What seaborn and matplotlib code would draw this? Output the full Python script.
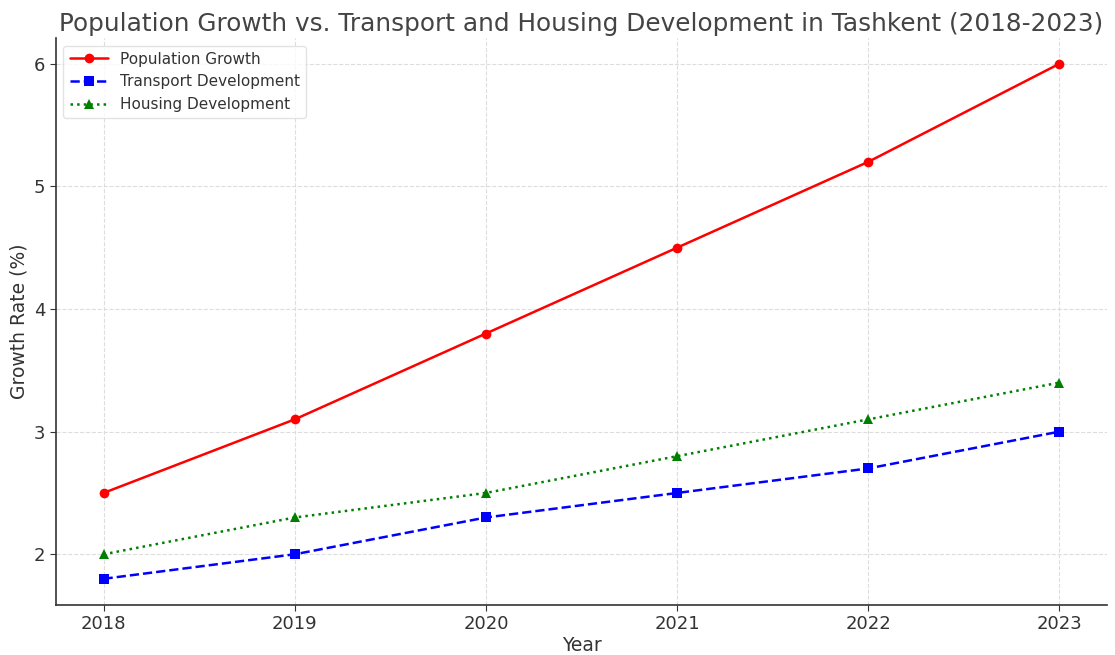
import pandas as pd
import matplotlib.pyplot as plt
import seaborn as sns

# Data
years = [2018, 2019, 2020, 2021, 2022, 2023]
population_growth = [2.5, 3.1, 3.8, 4.5, 5.2, 6.0]
transport_development = [1.8, 2.0, 2.3, 2.5, 2.7, 3.0]
housing_development = [2.0, 2.3, 2.5, 2.8, 3.1, 3.4]

df = pd.DataFrame({
    'Year': years,
    'Population Growth': population_growth,
    'Transport Development': transport_development,
    'Housing Development': housing_development,
})

sns.set_style('white')
plt.rcParams['text.color'] = '#333333'
plt.rcParams['axes.labelcolor'] = '#333333'
plt.rcParams['xtick.color'] = '#333333'
plt.rcParams['ytick.color'] = '#333333'

fig, ax = plt.subplots(figsize=(11.15, 6.55), dpi=100)

styles = {
    'Population Growth': dict(color='red', marker='o', linestyle='-'),
    'Transport Development': dict(color='blue', marker='s', linestyle='--'),
    'Housing Development': dict(color='green', marker='^', linestyle=':'),
}
for name, st in styles.items():
    sns.lineplot(data=df, x='Year', y=name, ax=ax, label=name,
                 color=st['color'], marker=st['marker'], linestyle=st['linestyle'],
                 linewidth=1.8, markersize=7, markeredgewidth=0)

ax.set_title('Population Growth vs. Transport and Housing Development in Tashkent (2018-2023)',
             fontsize=17.8, color='#444444', pad=5)
ax.set_xlabel('Year', fontsize=13.5, labelpad=2)
ax.set_ylabel('Growth Rate (%)', fontsize=13.5)
ax.set_xticks(years)
ax.set_yticks([2, 3, 4, 5, 6])
ax.tick_params(axis='both', labelsize=13, length=4, color='#333333', left=True, bottom=True)
ax.grid(True, linestyle='--', color='#dddddd', linewidth=0.8)
ax.set_axisbelow(True)
for side in ['top', 'right']:
    ax.spines[side].set_visible(False)
for side in ['left', 'bottom']:
    ax.spines[side].set_color('#333333')
    ax.spines[side].set_linewidth(1.2)

ax.legend(loc='upper left', fontsize=11, frameon=True, framealpha=0.8,
          edgecolor='#dddddd', handlelength=2.5)

fig.subplots_adjust(left=0.05, right=0.993, top=0.942, bottom=0.077)
plt.savefig('out.png', dpi=100)
